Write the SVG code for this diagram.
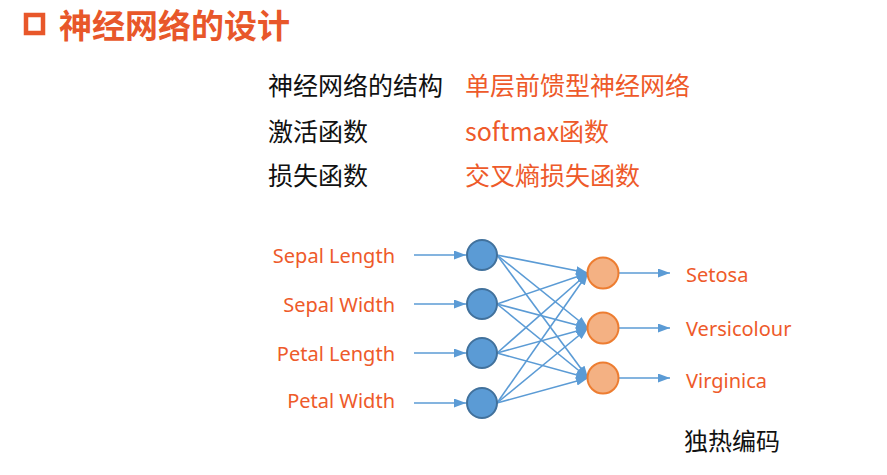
<svg xmlns="http://www.w3.org/2000/svg" width="887" height="475" viewBox="0 0 887 475">
<defs>
<marker id="ah" markerUnits="userSpaceOnUse" markerWidth="12" markerHeight="9" refX="12" refY="4.5" orient="auto">
<path d="M0,0 L12,4.5 L0,9 Z" fill="#5B9BD5"/>
</marker>
<style>
.cn{font-family:"Noto Sans CJK SC","Noto Sans",sans-serif;}
.blk{fill:#111111;font-size:25px;}
.org{fill:#EE5A2A;font-size:25px;}
.lab{fill:#EE5A2A;font-size:20px;font-family:"Noto Sans","Noto Sans CJK SC",sans-serif;}
.in{fill:#5B9BD5;stroke:#41719C;stroke-width:2;}
.out{fill:#F4B183;stroke:#ED7D31;stroke-width:2;}
.ln{stroke:#5B9BD5;stroke-width:1.6;fill:none;marker-end:url(#ah);}
</style>
</defs>
<rect width="887" height="475" fill="#FFFFFF"/>
<g id="title">
<rect x="26" y="15" width="17" height="18" fill="none" stroke="#E8572A" stroke-width="4.5"/>
<text x="59" y="38" class="cn" font-size="33" font-weight="bold" fill="#E8572A">神经网络的设计</text>
</g>
<g id="info" class="cn">
<text x="268" y="95" class="blk">神经网络的结构</text>
<text x="465" y="95" class="org">单层前馈型神经网络</text>
<text x="268" y="141" class="blk">激活函数</text>
<text x="465" y="141" class="org">softmax函数</text>
<text x="268" y="185" class="blk">损失函数</text>
<text x="465" y="185" class="org">交叉熵损失函数</text>
</g>
<g id="connectors">
<line class="ln" x1="414" y1="255" x2="466" y2="255"/>
<line class="ln" x1="414" y1="304" x2="466" y2="304"/>
<line class="ln" x1="414" y1="353" x2="466" y2="353"/>
<line class="ln" x1="414" y1="403" x2="466" y2="403"/>
<line class="ln" x1="497" y1="255" x2="588" y2="273"/>
<line class="ln" x1="497" y1="255" x2="588" y2="328"/>
<line class="ln" x1="497" y1="255" x2="588" y2="378"/>
<line class="ln" x1="497" y1="304" x2="588" y2="273"/>
<line class="ln" x1="497" y1="304" x2="588" y2="328"/>
<line class="ln" x1="497" y1="304" x2="588" y2="378"/>
<line class="ln" x1="497" y1="353" x2="588" y2="273"/>
<line class="ln" x1="497" y1="353" x2="588" y2="328"/>
<line class="ln" x1="497" y1="353" x2="588" y2="378"/>
<line class="ln" x1="497" y1="403" x2="588" y2="273"/>
<line class="ln" x1="497" y1="403" x2="588" y2="328"/>
<line class="ln" x1="497" y1="403" x2="588" y2="378"/>
<line class="ln" x1="619" y1="273" x2="670" y2="273"/>
<line class="ln" x1="619" y1="328" x2="670" y2="328"/>
<line class="ln" x1="619" y1="378" x2="670" y2="378"/>
</g>
<g id="in1"><circle class="in" cx="482" cy="255" r="15"/><text class="lab" x="395" y="263" text-anchor="end">Sepal Length</text></g>
<g id="in2"><circle class="in" cx="482" cy="304" r="15"/><text class="lab" x="395" y="312" text-anchor="end">Sepal Width</text></g>
<g id="in3"><circle class="in" cx="482" cy="353" r="15"/><text class="lab" x="395" y="361" text-anchor="end">Petal Length</text></g>
<g id="in4"><circle class="in" cx="482" cy="403" r="15"/><text class="lab" x="395" y="408" text-anchor="end">Petal Width</text></g>
<g id="out1"><circle class="out" cx="603" cy="273" r="15.5"/><text class="lab" x="686" y="282">Setosa</text></g>
<g id="out2"><circle class="out" cx="603" cy="328" r="15.5"/><text class="lab" x="686" y="336">Versicolour</text></g>
<g id="out3"><circle class="out" cx="603" cy="378" r="15.5"/><text class="lab" x="686" y="388">Virginica</text></g>
<g id="onehot"><text x="684" y="450" class="cn" font-size="24" fill="#111111">独热编码</text></g>
</svg>
